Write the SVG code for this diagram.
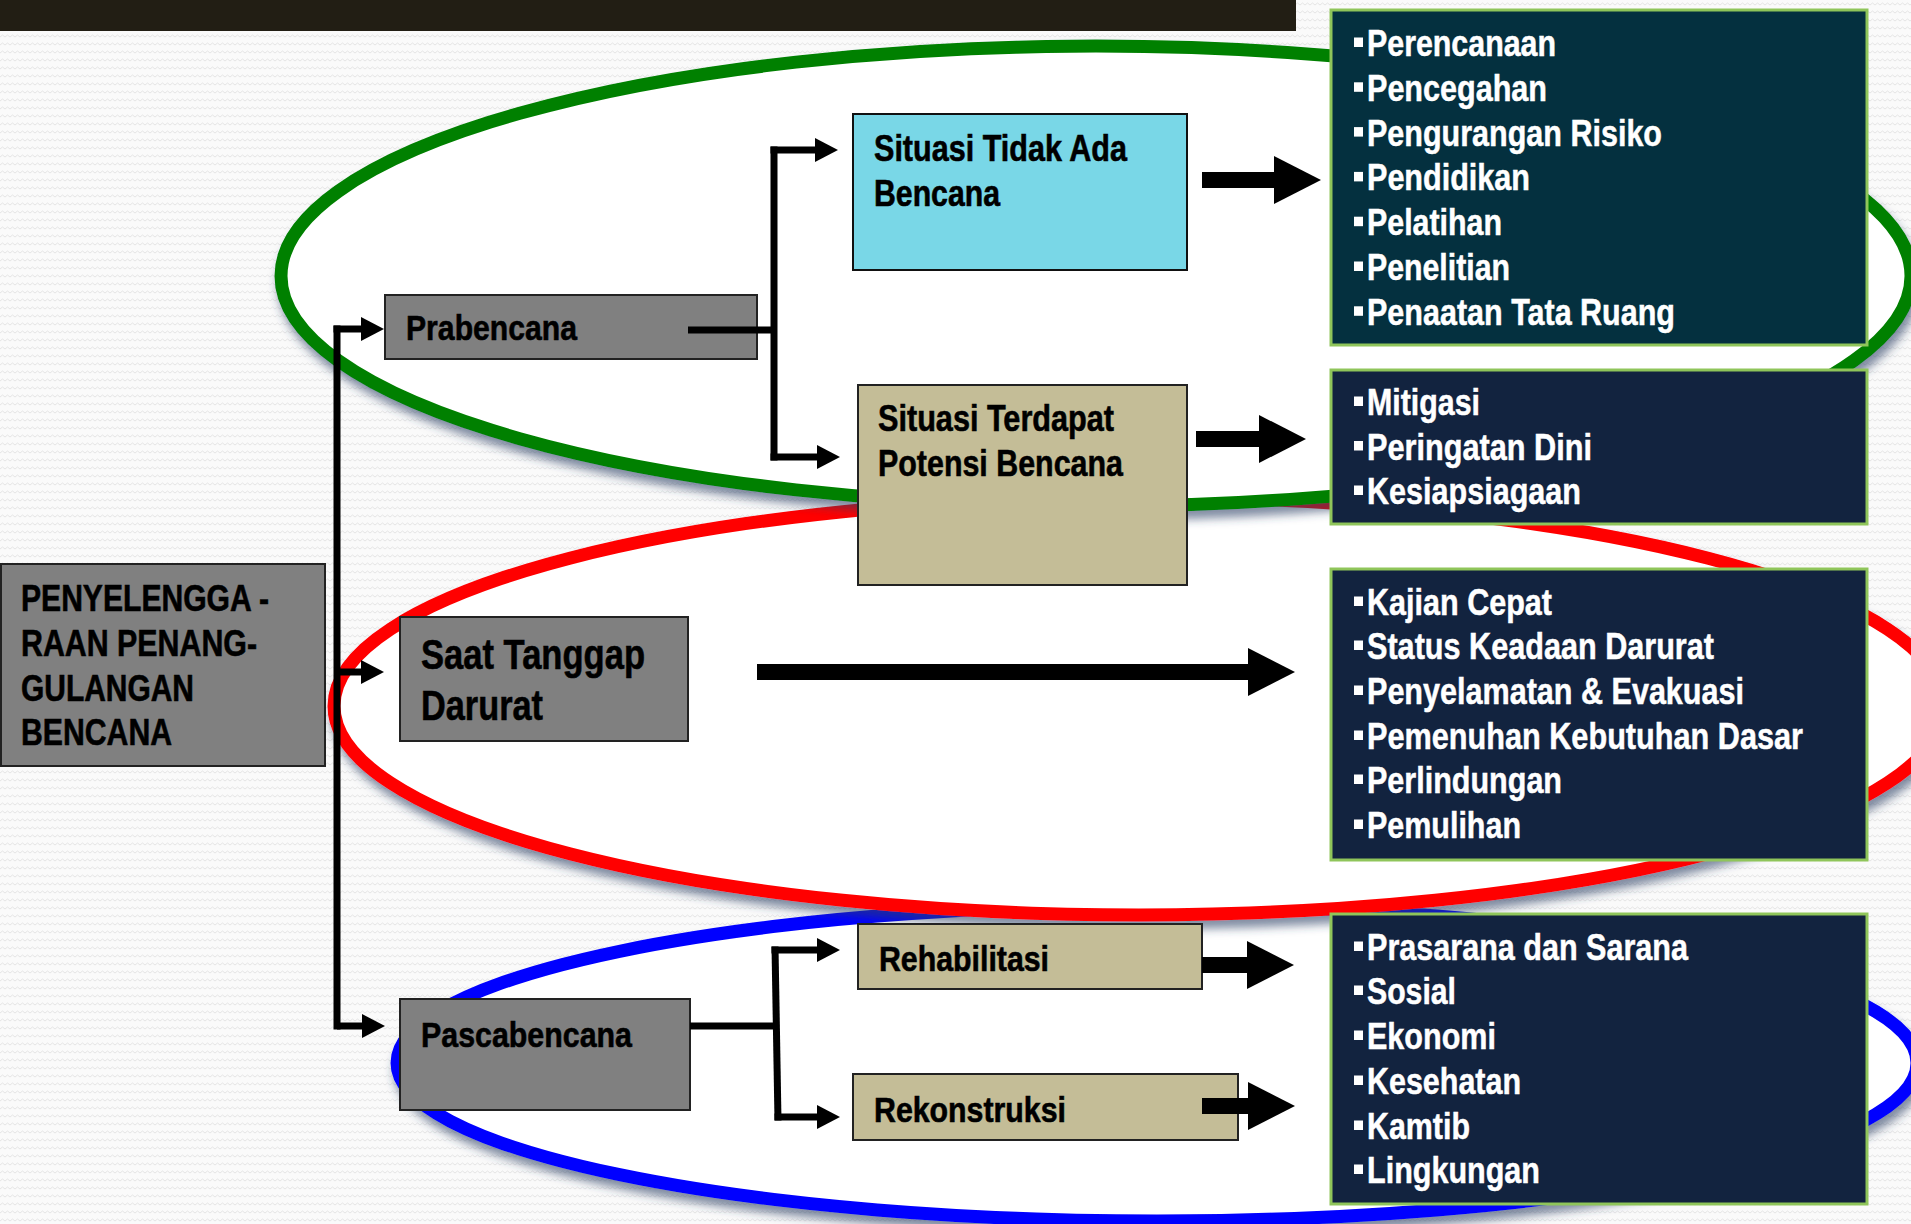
<svg xmlns="http://www.w3.org/2000/svg" width="1911" height="1224" viewBox="0 0 1911 1224">
<style>
.t{font-family:"Liberation Sans Narrow","Liberation Sans",Arial,sans-serif;font-weight:bold;fill:#000;stroke:#000;stroke-width:0.6}
.w{font-family:"Liberation Sans Narrow","Liberation Sans",Arial,sans-serif;font-weight:bold;fill:#fff;stroke:#fff;stroke-width:0.5;font-size:37px}
.gray{fill:#808080;stroke:#222;stroke-width:2}
.cyan{fill:#79d7e7;stroke:#111;stroke-width:2}
.tan{fill:#c4bd97;stroke:#222;stroke-width:2}
.dk1{fill:#04303f;stroke:#8fc55a;stroke-width:3}
.dk2{fill:#12233f;stroke:#8fc55a;stroke-width:3}
.bul{fill:#fff}
.ell{fill:#fff;stroke-width:13}
.thin{fill:none;stroke:#000;stroke-width:7}
.thick{fill:none;stroke:#000;stroke-width:16}
</style>
<defs>
<pattern id="bg" width="10" height="8" patternUnits="userSpaceOnUse">
<rect width="10" height="8" fill="#fafafa"/>
<path d="M0,5 L2.5,3 L5,5 L7.5,3 L10,5" fill="none" stroke="#e5e5e5" stroke-width="1"/>
</pattern>
<filter id="sh" x="-10%" y="-20%" width="125%" height="150%">
<feDropShadow dx="3" dy="8" stdDeviation="5" flood-color="#2e3f66" flood-opacity="0.6"/>
</filter>
<marker id="ah" markerUnits="userSpaceOnUse" markerWidth="23" markerHeight="24" viewBox="0 0 23 24" refX="1" refY="12" orient="auto"><path d="M0,0 L23,12 L0,24 z" fill="#000"/></marker>
<marker id="bh" markerUnits="userSpaceOnUse" markerWidth="47" markerHeight="48" viewBox="0 0 47 48" refX="1" refY="24" orient="auto"><path d="M0,0 L47,24 L0,48 z" fill="#000"/></marker>
</defs>
<rect width="1911" height="1224" fill="url(#bg)"/>
<rect x="0" y="0" width="1296" height="31" fill="#221e14"/>
<g id="phases">
<ellipse class="ell" cx="1157" cy="1063" rx="760" ry="158" stroke="#0000ff" filter="url(#sh)"/>
<ellipse class="ell" cx="1139" cy="706" rx="805" ry="209" stroke="#ff0000" filter="url(#sh)"/>
<ellipse class="ell" cx="1096" cy="276" rx="815" ry="230" stroke="#008000" filter="url(#sh)"/>
</g>
<g id="node-penyelenggaraan">
<rect class="gray" x="1" y="564" width="324" height="202"/>
<text class="t" font-size="37"><tspan x="21" y="611" textLength="248" lengthAdjust="spacingAndGlyphs">PENYELENGGA -</tspan><tspan x="21" y="656" textLength="236" lengthAdjust="spacingAndGlyphs">RAAN PENANG-</tspan><tspan x="21" y="701" textLength="173" lengthAdjust="spacingAndGlyphs">GULANGAN</tspan><tspan x="21" y="745" textLength="151" lengthAdjust="spacingAndGlyphs">BENCANA</tspan></text>
</g>
<g id="node-prabencana">
<rect class="gray" x="385" y="295" width="372" height="64"/>
<text class="t" font-size="35" x="406" y="340" textLength="171" lengthAdjust="spacingAndGlyphs">Prabencana</text>
</g>
<g id="node-situasi-tidak">
<rect class="cyan" x="853" y="114" width="334" height="156"/>
<text class="t" font-size="37"><tspan x="874" y="161" textLength="253" lengthAdjust="spacingAndGlyphs">Situasi Tidak Ada</tspan><tspan x="874" y="206" textLength="126" lengthAdjust="spacingAndGlyphs">Bencana</tspan></text>
</g>
<g id="node-situasi-terdapat">
<rect class="tan" x="858" y="385" width="329" height="200"/>
<text class="t" font-size="37"><tspan x="878" y="431" textLength="236" lengthAdjust="spacingAndGlyphs">Situasi Terdapat</tspan><tspan x="878" y="476" textLength="245" lengthAdjust="spacingAndGlyphs">Potensi Bencana</tspan></text>
</g>
<g id="node-saat-tanggap">
<rect class="gray" x="400" y="617" width="288" height="124"/>
<text class="t" font-size="42"><tspan x="421" y="669" textLength="224" lengthAdjust="spacingAndGlyphs">Saat Tanggap</tspan><tspan x="421" y="720" textLength="122" lengthAdjust="spacingAndGlyphs">Darurat</tspan></text>
</g>
<g id="node-pascabencana">
<rect class="gray" x="400" y="999" width="290" height="111"/>
<text class="t" font-size="35" x="421" y="1047" textLength="211" lengthAdjust="spacingAndGlyphs">Pascabencana</text>
</g>
<g id="node-rehabilitasi">
<rect class="tan" x="858" y="924" width="344" height="65"/>
<text class="t" font-size="35" x="879" y="971" textLength="170" lengthAdjust="spacingAndGlyphs">Rehabilitasi</text>
</g>
<g id="node-rekonstruksi">
<rect class="tan" x="853" y="1074" width="385" height="66"/>
<text class="t" font-size="35" x="874" y="1122" textLength="192" lengthAdjust="spacingAndGlyphs">Rekonstruksi</text>
</g>
<g id="node-list-prabencana-aman">
<rect class="dk1" x="1331" y="10" width="536" height="335"/>
<rect class="bul" x="1354" y="37.5" width="9" height="9.5"/><text class="w" x="1367" y="56" textLength="189" lengthAdjust="spacingAndGlyphs">Perencanaan</text>
<rect class="bul" x="1354" y="82.3" width="9" height="9.5"/><text class="w" x="1367" y="100.8" textLength="180" lengthAdjust="spacingAndGlyphs">Pencegahan</text>
<rect class="bul" x="1354" y="127.1" width="9" height="9.5"/><text class="w" x="1367" y="145.6" textLength="295" lengthAdjust="spacingAndGlyphs">Pengurangan Risiko</text>
<rect class="bul" x="1354" y="171.9" width="9" height="9.5"/><text class="w" x="1367" y="190.4" textLength="163" lengthAdjust="spacingAndGlyphs">Pendidikan</text>
<rect class="bul" x="1354" y="216.7" width="9" height="9.5"/><text class="w" x="1367" y="235.2" textLength="135" lengthAdjust="spacingAndGlyphs">Pelatihan</text>
<rect class="bul" x="1354" y="261.5" width="9" height="9.5"/><text class="w" x="1367" y="280" textLength="143" lengthAdjust="spacingAndGlyphs">Penelitian</text>
<rect class="bul" x="1354" y="306.3" width="9" height="9.5"/><text class="w" x="1367" y="324.8" textLength="308" lengthAdjust="spacingAndGlyphs">Penaatan Tata Ruang</text>
</g>
<g id="node-list-prabencana-potensi">
<rect class="dk2" x="1331" y="370" width="536" height="154"/>
<rect class="bul" x="1354" y="396.5" width="9" height="9.5"/><text class="w" x="1367" y="415" textLength="113" lengthAdjust="spacingAndGlyphs">Mitigasi</text>
<rect class="bul" x="1354" y="441" width="9" height="9.5"/><text class="w" x="1367" y="459.5" textLength="225" lengthAdjust="spacingAndGlyphs">Peringatan Dini</text>
<rect class="bul" x="1354" y="485.5" width="9" height="9.5"/><text class="w" x="1367" y="504" textLength="214" lengthAdjust="spacingAndGlyphs">Kesiapsiagaan</text>
</g>
<g id="node-list-tanggap">
<rect class="dk2" x="1331" y="569" width="536" height="291"/>
<rect class="bul" x="1354" y="596.5" width="9" height="9.5"/><text class="w" x="1367" y="615" textLength="185" lengthAdjust="spacingAndGlyphs">Kajian Cepat</text>
<rect class="bul" x="1354" y="640.5" width="9" height="9.5"/><text class="w" x="1367" y="659" textLength="347" lengthAdjust="spacingAndGlyphs">Status Keadaan Darurat</text>
<rect class="bul" x="1354" y="685.5" width="9" height="9.5"/><text class="w" x="1367" y="704" textLength="377" lengthAdjust="spacingAndGlyphs">Penyelamatan &amp; Evakuasi</text>
<rect class="bul" x="1354" y="730.5" width="9" height="9.5"/><text class="w" x="1367" y="749" textLength="436" lengthAdjust="spacingAndGlyphs">Pemenuhan Kebutuhan Dasar</text>
<rect class="bul" x="1354" y="774.5" width="9" height="9.5"/><text class="w" x="1367" y="793" textLength="195" lengthAdjust="spacingAndGlyphs">Perlindungan</text>
<rect class="bul" x="1354" y="819.5" width="9" height="9.5"/><text class="w" x="1367" y="838" textLength="154" lengthAdjust="spacingAndGlyphs">Pemulihan</text>
</g>
<g id="node-list-pasca">
<rect class="dk2" x="1331" y="914" width="536" height="290"/>
<rect class="bul" x="1354" y="941.5" width="9" height="9.5"/><text class="w" x="1367" y="960" textLength="321" lengthAdjust="spacingAndGlyphs">Prasarana dan Sarana</text>
<rect class="bul" x="1354" y="985.5" width="9" height="9.5"/><text class="w" x="1367" y="1004" textLength="89" lengthAdjust="spacingAndGlyphs">Sosial</text>
<rect class="bul" x="1354" y="1030.5" width="9" height="9.5"/><text class="w" x="1367" y="1049" textLength="129" lengthAdjust="spacingAndGlyphs">Ekonomi</text>
<rect class="bul" x="1354" y="1075.5" width="9" height="9.5"/><text class="w" x="1367" y="1094" textLength="154" lengthAdjust="spacingAndGlyphs">Kesehatan</text>
<rect class="bul" x="1354" y="1120.5" width="9" height="9.5"/><text class="w" x="1367" y="1139" textLength="103" lengthAdjust="spacingAndGlyphs">Kamtib</text>
<rect class="bul" x="1354" y="1164.5" width="9" height="9.5"/><text class="w" x="1367" y="1183" textLength="173" lengthAdjust="spacingAndGlyphs">Lingkungan</text>
</g>
<g id="connectors">
<path class="thin" d="M337,325.5 V1029.5"/>
<path class="thin" d="M333.5,329 H362" marker-end="url(#ah)"/>
<path class="thin" d="M337,672 H362" marker-end="url(#ah)"/>
<path class="thin" d="M337,1026 H363" marker-end="url(#ah)"/>
<path class="thin" d="M688,330 H774"/>
<path class="thin" d="M774,146.5 V460.5"/>
<path class="thin" d="M770.5,150 H816" marker-end="url(#ah)"/>
<path class="thin" d="M770.5,457 H818" marker-end="url(#ah)"/>
<path class="thin" d="M690,1026 H776"/>
<path class="thin" d="M775,946.5 L778,1120.5"/>
<path class="thin" d="M771.5,950 H818" marker-end="url(#ah)"/>
<path class="thin" d="M774.5,1117 H818" marker-end="url(#ah)"/>
<path class="thick" d="M1202,180 H1275" marker-end="url(#bh)"/>
<path class="thick" d="M1196,439 H1260" marker-end="url(#bh)"/>
<path class="thick" d="M757,672 H1249" marker-end="url(#bh)"/>
<path class="thick" d="M1202,965 H1248" marker-end="url(#bh)"/>
<path class="thick" d="M1202,1106 H1249" marker-end="url(#bh)"/>
</g>
</svg>
